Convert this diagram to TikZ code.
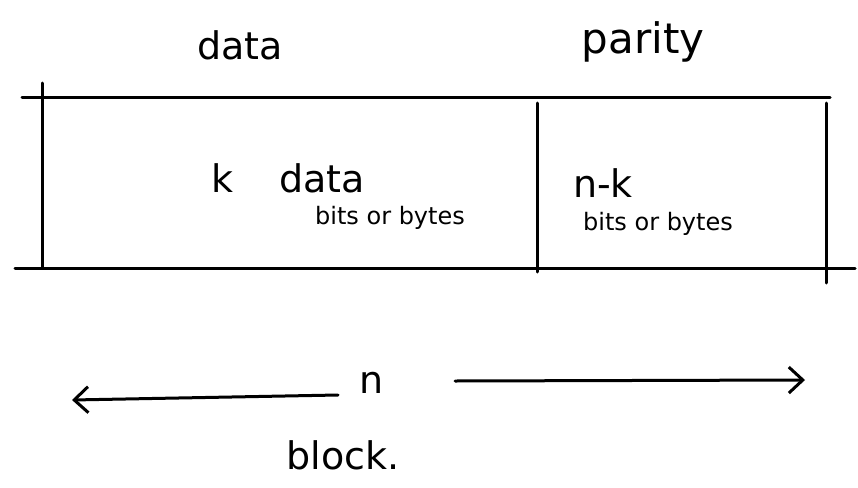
\documentclass[tikz,border=0pt]{standalone}
\usepackage{fontspec}
\setmainfont{DejaVu Sans}
\usetikzlibrary{arrows.meta}
\begin{document}
\begin{tikzpicture}[x=1pt,y=-1pt,
  pen/.style={line width=3pt,line cap=round,black},
  big/.style={font=\fontsize{38}{40}\selectfont,inner sep=0pt},
  small/.style={font=\fontsize{24}{26}\selectfont,inner sep=0pt},
  tip/.style={-{Straight Barb[length=14pt,width=26pt,line width=3pt]}}]
\useasboundingbox[fill=white] (0,0) rectangle (858,487);
% frame lines
\coordinate (tl) at (22,97);  \coordinate (tr) at (830,97);
\coordinate (bl) at (15,268); \coordinate (br) at (855,268);
\coordinate (v1a) at (42,83);  \coordinate (v1b) at (42,268);
\coordinate (v2a) at (537,103); \coordinate (v2b) at (537,272);
\coordinate (v3a) at (826,103); \coordinate (v3b) at (826,283);
\draw[pen] (tl) -- (tr);
\draw[pen] (bl) -- (br);
\draw[pen] (v1a) -- (v1b);
\draw[pen] (v2a) -- (v2b);
\draw[pen] (v3a) -- (v3b);
% labels
\node[big] (data) at (240,45) {data};
\node[big,font=\fontsize{42}{44}\selectfont] (parity) at (643,42) {parity};
\node[big] (k) at (222,178) {k};
\node[big] (kdata) at (322,178) {data};
\node[small] (bits1) at (390,218) {bits or bytes};
\node[big] (nk) at (603,183) {n-k};
\node[small] (bits2) at (658,224) {bits or bytes};
\node[big] (n) at (372,383) {n};
\node[big] (block) at (343,455) {block.};
% arrow
\coordinate (la) at (72,400);
\coordinate (ra) at (805,380);
\draw[pen,tip] (338,395) -- (la);
\draw[pen,tip] (455,381) -- (ra);
\end{tikzpicture}
\end{document}
